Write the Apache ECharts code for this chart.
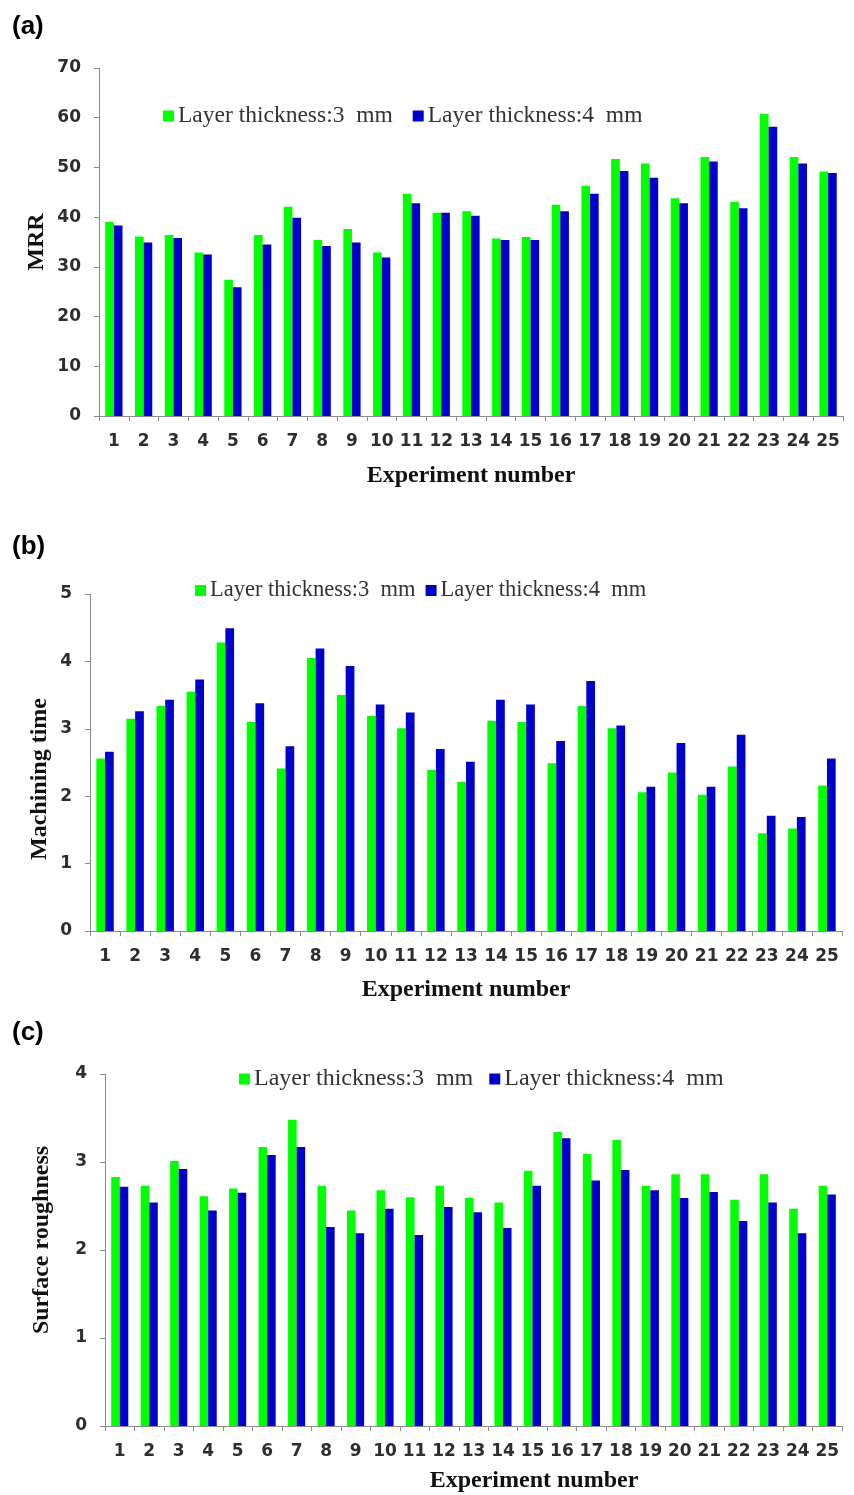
<!DOCTYPE html>
<html>
<head>
<meta charset="utf-8">
<script src="https://cdn.jsdelivr.net/npm/echarts@6/dist/echarts.min.js"></script>
<style>
html,body{margin:0;padding:0;background:#fff;}
#chart{width:854px;height:1495px;}
</style>
</head>
<body>
<div id="chart"></div>
<script>
const categories = ['1','2','3','4','5','6','7','8','9','10','11','12','13','14','15','16','17','18','19','20','21','22','23','24','25'];
const seriesNames = ['Layer thickness:3  mm', 'Layer thickness:4  mm'];

const mrr3 = [39.0,36.1,36.4,32.9,27.4,36.4,42.1,35.4,37.6,32.9,44.7,40.9,41.2,35.7,36.0,42.5,46.3,51.7,50.8,43.8,52.1,43.1,60.8,52.1,49.2];
const mrr4 = [38.3,34.9,35.8,32.5,25.9,34.5,39.9,34.2,34.9,31.9,42.8,40.9,40.3,35.4,35.4,41.2,44.7,49.3,47.9,42.8,51.2,41.8,58.2,50.8,48.9];

const time3 = [2.56,3.15,3.34,3.55,4.28,3.10,2.41,4.05,3.50,3.19,3.01,2.39,2.21,3.12,3.10,2.49,3.34,3.01,2.06,2.35,2.02,2.44,1.45,1.52,2.16];
const time4 = [2.66,3.26,3.43,3.73,4.49,3.38,2.74,4.19,3.93,3.36,3.24,2.70,2.51,3.43,3.36,2.82,3.71,3.05,2.14,2.79,2.14,2.91,1.71,1.69,2.56];

const rough3 = [2.83,2.73,3.01,2.61,2.70,3.17,3.48,2.73,2.45,2.68,2.60,2.73,2.59,2.54,2.90,3.34,3.09,3.25,2.73,2.86,2.86,2.57,2.86,2.47,2.73];
const rough4 = [2.72,2.54,2.92,2.45,2.65,3.08,3.17,2.26,2.19,2.47,2.17,2.49,2.43,2.25,2.73,3.27,2.79,2.91,2.68,2.59,2.66,2.33,2.54,2.19,2.63];

const panelLabels = ['(a)', '(b)', '(c)'];
const yTitles = ['MRR', 'Machining time', 'Surface roughness'];
const xTitle = 'Experiment number';

const GREEN = '#00ff00';
const BLUE = '#0000cc';
const AXIS = '#8a8a8a';
const TXT = '#2e2e2e';

const grids = [
  {left: 99, right: 11, top: 68, height: 348},
  {left: 90, right: 12, top: 594, height: 337},
  {left: 105, right: 12, top: 1074, height: 352}
];
const yRanges = [[0, 70, 10], [0, 5, 1], [0, 4, 1]];
const dataSets = [[mrr3, mrr4], [time3, time4], [rough3, rough4]];

const xAxes = grids.map((g, i) => ({
  type: 'category', gridIndex: i, data: categories,
  axisLine: {lineStyle: {color: AXIS, width: 1}},
  axisTick: {show: true, length: 5, lineStyle: {color: AXIS}},
  axisLabel: {interval: 0, margin: 17, color: TXT, fontFamily: 'DejaVu Sans', fontWeight: 'bold', fontSize: 17}
}));
const yAxes = grids.map((g, i) => ({
  type: 'value', gridIndex: i, min: yRanges[i][0], max: yRanges[i][1], interval: yRanges[i][2],
  axisLine: {show: true, lineStyle: {color: AXIS, width: 1}},
  axisTick: {show: true, length: 5, lineStyle: {color: AXIS}},
  splitLine: {show: false},
  axisLabel: {margin: 18, color: TXT, fontFamily: 'DejaVu Sans', fontWeight: 'bold', fontSize: 17}
}));

const series = [];
dataSets.forEach((pair, i) => {
  pair.forEach((vals, j) => {
    series.push({
      type: 'bar', name: seriesNames[j], xAxisIndex: i, yAxisIndex: i,
      data: vals, barWidth: '29%', barGap: '0%',
      itemStyle: {color: j === 0 ? GREEN : BLUE},
      emphasis: {disabled: true}, animation: false
    });
  });
});

const legendPos = [
  {left: 163, top: 104, fontSize: 23.5, itemGap: 20},
  {left: 195, top: 579, fontSize: 22.5, itemGap: 10},
  {left: 239, top: 1067, fontSize: 24, itemGap: 16}
];
const legends = legendPos.map(p => ({
  left: p.left, top: p.top, orient: 'horizontal', icon: 'rect',
  itemWidth: 11, itemHeight: 11, itemGap: p.itemGap, padding: 0,
  data: seriesNames, selectedMode: false,
  textStyle: {fontFamily: 'Liberation Serif', fontSize: p.fontSize, color: '#333', padding: [0, 0, 0, -1]}
}));

const labelPos = [[12, 27], [12, 547], [12, 1033]];
const yTitlePos = [[37, 242], [40, 779], [42, 1240]];
const xTitlePos = [[471, 476], [466, 990], [534, 1481]];

const graphic = [];
panelLabels.forEach((t, i) => {
  graphic.push({type: 'text', x: labelPos[i][0], y: labelPos[i][1],
    style: {text: t, font: 'bold 26px "Liberation Sans"', fill: '#000', align: 'left', verticalAlign: 'middle', textAlign: 'left', textVerticalAlign: 'middle'}});
  graphic.push({type: 'text', x: yTitlePos[i][0], y: yTitlePos[i][1], rotation: Math.PI / 2,
    style: {text: yTitles[i], font: 'bold 24px "Liberation Serif"', fill: '#111', align: 'center', verticalAlign: 'middle', textAlign: 'center', textVerticalAlign: 'middle'}});
  graphic.push({type: 'text', x: xTitlePos[i][0], y: xTitlePos[i][1],
    style: {text: xTitle, font: 'bold 24px "Liberation Serif"', fill: '#111', align: 'center', verticalAlign: 'middle', textAlign: 'center', textVerticalAlign: 'middle'}});
});

const chart = echarts.init(document.getElementById('chart'), null, {renderer: 'canvas', width: 854, height: 1495});
chart.setOption({
  animation: false,
  backgroundColor: '#ffffff',
  grid: grids,
  xAxis: xAxes,
  yAxis: yAxes,
  legend: legends,
  series: series,
  graphic: graphic
});
</script>
</body>
</html>
